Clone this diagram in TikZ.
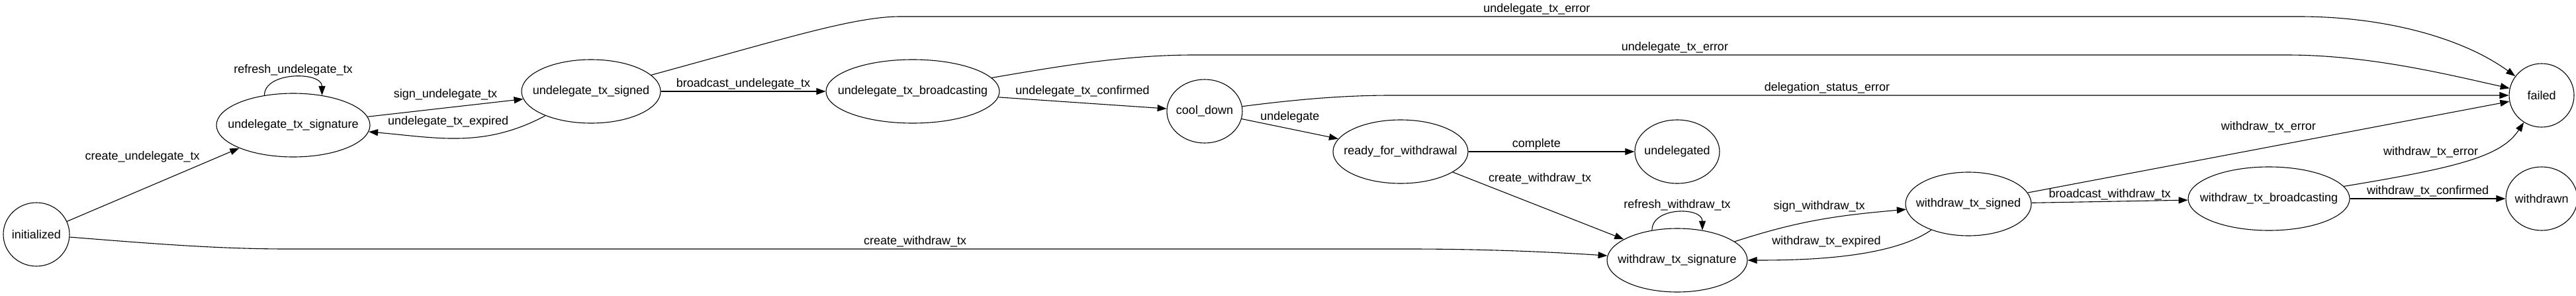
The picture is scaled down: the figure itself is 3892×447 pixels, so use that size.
\documentclass[tikz,border=0pt]{standalone}
\usepackage{fontspec}
\setmainfont{Liberation Sans}
\usetikzlibrary{arrows.meta,positioning,shapes.geometric}

\begin{document}
\begin{tikzpicture}[->,>={Triangle[length=14pt,width=10pt]},line width=1.1pt,
                    x=1pt,y=1pt,on grid,font=\fontsize{18}{21}\selectfont,
                    every node/.style={inner sep=2pt},
                    state/.style={draw,ellipse,minimum height=96pt,
                                  inner xsep=-130pt,inner ysep=0pt}]
  \useasboundingbox (0,0) rectangle (3892,-447);

  \node[state,minimum width=100pt] (init)      at (55,-354)                           {initialized};
  \node[state,minimum width=232pt] (usig)      [above right=165pt and 388pt of init]  {undelegate\_tx\_signature};
  \node[state,minimum width=210pt] (usigned)   [above right=51pt and 450pt of usig]   {undelegate\_tx\_signed};
  \node[state,minimum width=262pt] (ubcast)    [right=486pt of usigned]               {undelegate\_tx\_broadcasting};
  \node[state,minimum width=114pt] (cool)      [below right=30pt and 441pt of ubcast] {cool\_down};
  \node[state,minimum width=204pt] (ready)     [below right=61pt and 296pt of cool]   {ready\_for\_withdrawal};
  \node[state,minimum width=128pt] (undel)     [right=418pt of ready]                 {undelegated};
  \node[state,minimum width=212pt] (wsig)      [below=164pt of undel]                 {withdraw\_tx\_signature};
  \node[state,minimum width=190pt] (wsigned)   [above right=85pt and 440pt of wsig]   {withdraw\_tx\_signed};
  \node[state,minimum width=244pt] (wbcast)    [above right=8pt and 454pt of wsigned] {withdraw\_tx\_broadcasting};
  \node[state,minimum width=108pt] (withdrawn) [right=412pt of wbcast]                {withdrawn};
  \node[state,minimum width=98pt]  (failed)    [above=156pt of withdrawn]             {failed};

  \path (init)      edge node[pos=0.78,above left] {create\_undelegate\_tx} (usig)
        (usig)      edge node[above=9pt] {sign\_undelegate\_tx} (usigned)
        (usig.134)  edge [out=90,in=90,looseness=1.07] node[above] {refresh\_undelegate\_tx} (usig.46)
        (usigned)   edge [out=208,in=-5] node[pos=0.57,above=14pt] {undelegate\_tx\_expired} (usig)
                    edge node[above] {broadcast\_undelegate\_tx} (ubcast)
        (ubcast)    edge node[above=7pt] {undelegate\_tx\_confirmed} (cool)
        (cool)      edge node[above=7pt] {undelegate} (ready)
        (ready)     edge node[pos=0.41,above] {complete} (undel)
                    edge node[pos=0.2,above right] {create\_withdraw\_tx} (wsig)
        (wsig.130)  edge [out=90,in=90,looseness=1.2] node[above] {refresh\_withdraw\_tx} (wsig.50)
        (wsig)      edge [out=18,in=185] node[above=9pt] {sign\_withdraw\_tx} (wsigned)
        (wsigned)   edge [out=215,in=0,looseness=0.7] node[pos=0.58,above=13pt] {withdraw\_tx\_expired} (wsig)
                    edge node[above=20pt] {withdraw\_tx\_error} (failed)
                    edge node[above] {broadcast\_withdraw\_tx} (wbcast)
        (wbcast)    edge node[above] {withdraw\_tx\_confirmed} (withdrawn);

  % long runs into failed
  \draw (usigned) .. controls (1180,-60) and (1290,-25) .. (1360,-25)
        -- node[pos=0.455,above] {undelegate\_tx\_error} (3474,-25)
        .. controls (3600,-25) and (3719,-56) .. (failed);
  \draw (ubcast) .. controls (1600,-100) and (1700,-83) .. (1804,-83)
        -- node[pos=0.44,above] {undelegate\_tx\_error} (3455,-83)
        .. controls (3580,-83) and (3700,-113) .. (failed);
  \draw (cool) .. controls (1960,-150) and (2030,-144) .. (2102,-144)
        -- node[pos=0.39,above] {delegation\_status\_error} (failed);
  \draw (wbcast) .. controls (3720,-252) and (3780,-235) .. (failed)
        node[pos=0.3,above=16pt] {withdraw\_tx\_error};
  \draw (init) .. controls (230,-368) and (330,-376) .. (434,-376)
        -- node[pos=0.56,above] {create\_withdraw\_tx} (2128,-376)
        .. controls (2250,-376) and (2350,-381) .. (wsig);
\end{tikzpicture}
\end{document}
